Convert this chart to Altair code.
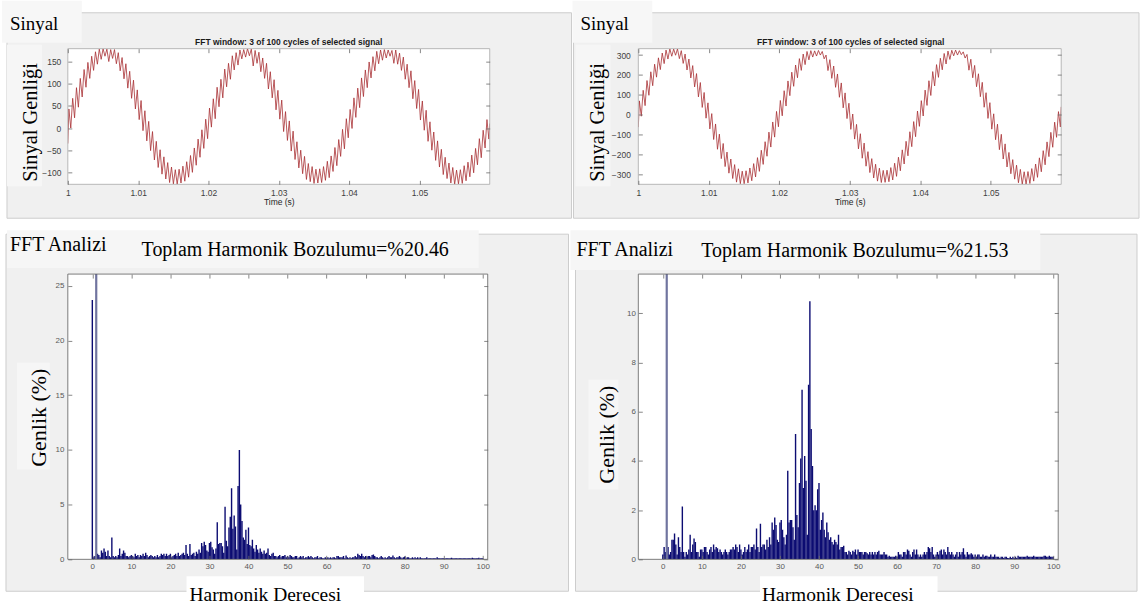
import altair as alt
import pandas as pd

# ---------------- data ----------------
# Top panels: signal local maxima / minima of each ripple (3 cycles, 37 ripples each)
tl_start, tl_end = -35, 10
tl_peaks = [43, 67, 91, 112, 132, 148, 162, 172, 178, 179, 178, 177, 177, 170, 159, 145, 128, 108, 86, 62,
            39, 15, -8, -30, -49, -65, -78, -88, -94, -93, -86, -76, -62, -45, -25, -4, 20,
            45, 66, 92, 110, 133, 146, 163, 170, 176, 177, 179, 178, 175, 171, 158, 146, 127, 109, 85, 63,
            37, 16, -7, -31, -50, -64, -80, -87, -93, -92, -87, -75, -63, -44, -26, -3, 21,
            42, 68, 90, 113, 131, 149, 161, 173, 176, 177, 176, 175, 176, 169, 160, 144, 129, 107, 87, 61,
            40, 14, -9, -29, -48, -66, -79, -89, -95, -94, -85, -77, -61, -46, -24, -5, 19]
tl_troughs = [0, 23, 47, 70, 92, 112, 130, 144, 155, 162, 150, 157, 145, 129, 111, 90, 67, 43, 19, -6,
              -29, -51, -72, -89, -104, -115, -123, -126, -127, -124, -120, -111, -100, -84, -66, -46, -24,
              2, 21, 48, 68, 93, 110, 131, 142, 156, 160, 163, 140, 146, 127, 112, 88, 68, 41, 20, -8,
              -28, -52, -71, -90, -103, -116, -121, -125, -124, -123, -118, -112, -98, -85, -64, -47, -22,
              -1, 24, 46, 71, 91, 113, 129, 145, 153, 158, 162, 146, 144, 130, 110, 91, 66, 44, 18, -5,
              -30, -50, -73, -88, -105, -114, -124, -127, -126, -125, -119, -110, -101, -83, -67, -45, -25]
tr_start, tr_end = -62, 40
tr_peaks = [70, 123, 172, 216, 254, 286, 310, 325, 331, 330, 331, 322, 305, 280, 247, 207, 162, 112, 60, 6,
            -46, -97, -144, -187, -222, -250, -271, -283, -281, -267, -245, -215, -178, -135, -87, -36, 17,
            72, 121, 170, 214, 250, 282, 305, 318, 322, 321, 323, 318, 300, 277, 245, 205, 160, 110, 58, 4,
            -48, -95, -142, -185, -220, -248, -268, -279, -278, -265, -243, -213, -176, -133, -85, -34, 19,
            71, 124, 171, 217, 252, 284, 308, 320, 324, 325, 322, 316, 303, 279, 248, 206, 163, 111, 61, 5,
            -47, -98, -146, -189, -225, -253, -274, -286, -285, -270, -247, -216, -180, -136, -88, -37, 16]
tr_troughs = [-7, 46, 98, 146, 189, 227, 257, 280, 294, 299, 282, 258, 225, 185, 140, 90, 37, -17, -71, -124,
              -173, -220, -260, -293, -320, -338, -346, -346, -342, -331, -312, -284, -249, -208, -162, -112, -60,
              -5, 44, 96, 143, 186, 223, 252, 276, 290, 295, 300, 281, 222, 183, 138, 88, 35, -19, -73, -122,
              -171, -218, -258, -290, -317, -333, -340, -339, -336, -327, -309, -281, -247, -206, -160, -110, -58,
              -6, 47, 97, 145, 188, 226, 255, 278, 296, 300, 302, 285, 224, 186, 141, 91, 38, -18, -72, -125,
              -175, -222, -262, -296, -323, -341, -349, -348, -345, -333, -314, -286, -251, -210, -163, -113, -61]

time_ticks = [1.0, 1.01, 1.02, 1.03, 1.04, 1.05]
tl_yticks = [-100, -50, 0, 50, 100, 150]
tr_yticks = [-300, -200, -100, 0, 100, 200, 300]
harm_ticks = [0, 10, 20, 30, 40, 50, 60, 70, 80, 90, 100]
bl_yticks = [0, 5, 10, 15, 20, 25]
br_yticks = [0, 2, 4, 6, 8, 10]

# Bottom panels: FFT magnitude (% of fundamental), one value per 1/3 harmonic bin
fft_left = [
    23.7, 0.2, 0.3, 100, 0.5, 0.4, 0.2, 0.8, 0.6, 1.0, 0.7, 0.3, 0.8, 0.3, 0.2, 2.0, 0.3, 0.2, 0.3, 0.2, 0.4, 1.0, 0.3, 0.5, 0.8, 0.6, 0.3, 0.3, 0.2, 0.3,
    0.4, 0.3, 0.2, 0.5, 0.3, 0.4, 0.2, 0.4, 0.3, 0.5, 0.3, 0.6, 0.4, 0.2, 0.3, 0.4, 0.3, 0.2, 0.3, 0.2, 0.4, 0.2, 0.3, 0.5, 0.4, 0.5, 0.3, 0.5, 0.3, 0.4,
    0.5, 0.2, 0.3, 0.4, 0.5, 0.3, 0.6, 0.3, 0.4, 0.5, 0.6, 0.4, 1.3, 0.5, 0.3, 1.4, 0.4, 0.5, 0.6, 0.3, 0.7, 0.5, 0.9, 0.6, 1.5, 1.2, 1.6, 1.3, 0.8, 0.7,
    1.5, 1.6, 1.1, 0.9, 0.5, 1.0, 3.4, 1.4, 1.5, 1.5, 1.2, 0.6, 4.8, 1.7, 1.2, 2.9, 3.9, 6.5, 2.8, 4.0, 3.0, 0.9, 6.7, 10.0, 5.0, 3.5, 2.0, 1.8, 2.7, 1.4,
    2.9, 1.3, 1.2, 1.8, 1.0, 0.7, 1.3, 0.9, 0.6, 1.0, 0.7, 0.5, 0.8, 0.5, 0.6, 1.0, 0.4, 0.3, 0.5, 0.6, 0.3, 0.3, 0.2, 0.3, 0.4, 0.2, 0.3, 0.3, 0.4, 0.2,
    0.3, 0.2, 0.4, 0.3, 0.2, 0.2, 0.3, 0.3, 0.1, 0.2, 0.3, 0.2, 0.3, 0.1, 0.2, 0.2, 0.3, 0.2, 0.3, 0.2, 0.1, 0.2, 0.2, 0.3, 0.1, 0.2, 0.2, 0.1, 0.1, 0.2,
    0.1, 0.2, 0.1, 0.2, 0.1, 0.2, 0.2, 0.1, 0.3, 0.3, 0.2, 0.2, 0.2, 0.3, 0.1, 0.35, 0.2, 0.1, 0.2, 0.1, 0.2, 0.2, 0.3, 0.2, 0.5, 0.4, 0.3, 0.5, 0.3, 0.2,
    0.3, 0.2, 0.3, 0.3, 0.2, 0.4, 0.45, 0.3, 0.2, 0.2, 0.1, 0.2, 0.3, 0.2, 0.1, 0.2, 0.1, 0.2, 0.3, 0.2, 0.2, 0.35, 0.2, 0.1, 0.2, 0.2, 0.3, 0.2, 0.1, 0.2,
    0.25, 0.1, 0.2, 0.2, 0.1, 0.1, 0.2, 0.1, 0.2, 0.1, 0.2, 0.1, 0.2, 0.1, 0.1, 0.1, 0.1, 0.2, 0.1, 0.1, 0.1, 0.1, 0.1, 0.1, 0.1, 0.2, 0.1, 0.1, 0.1, 0.1,
    0.1, 0.1, 0.1, 0.1, 0.1, 0.1, 0.15, 0.1, 0.1, 0.1, 0.1, 0.1, 0.1, 0.1, 0.1, 0.1, 0.1, 0.1, 0.1, 0.1, 0.1, 0.1, 0.15, 0.1, 0.1, 0.1, 0.1, 0.15, 0.1, 0.1,
    0.1]
fft_right = [
    0.2, 0.5, 0.3, 100, 0.5, 0.2, 0.3, 0.8, 0.8, 1.05, 0.6, 0.2, 0.9, 0.5, 0.3, 2.15, 0.3, 0.1, 0.3, 0.2, 0.4, 1.0, 0.3, 0.6, 0.85, 0.7, 0.3, 0.3, 0.1, 0.4,
    0.4, 0.3, 0.5, 0.5, 0.3, 0.2, 0.4, 0.5, 0.3, 0.6, 0.4, 0.5, 0.45, 0.3, 0.4, 0.3, 0.2, 0.3, 0.4, 0.3, 0.2, 0.3, 0.4, 0.4, 0.5, 0.4, 0.6, 0.5, 0.3, 0.6,
    0.4, 0.2, 0.3, 0.5, 0.3, 0.4, 0.6, 0.3, 0.5, 0.5, 0.6, 0.4, 1.25, 0.5, 0.3, 1.45, 0.5, 0.6, 0.6, 0.4, 0.8, 0.5, 0.9, 0.6, 1.5, 1.2, 1.7, 1.4, 0.8, 0.7,
    1.5, 1.6, 1.2, 0.9, 0.6, 1.0, 3.6, 1.5, 1.6, 1.6, 1.3, 0.8, 5.1, 1.8, 1.3, 3.1, 4.1, 6.9, 2.9, 4.2, 3.2, 1.0, 7.1, 10.5, 5.3, 3.8, 2.0, 2.2, 2.0, 2.85,
    3.1, 1.2, 1.6, 1.9, 1.2, 0.9, 1.5, 1.1, 0.8, 0.9, 0.7, 0.6, 0.8, 0.7, 0.6, 1.0, 0.4, 0.5, 0.5, 0.55, 0.3, 0.3, 0.2, 0.35, 0.3, 0.2, 0.35, 0.3, 0.4, 0.2,
    0.4, 0.3, 0.3, 0.3, 0.2, 0.3, 0.3, 0.25, 0.2, 0.3, 0.2, 0.3, 0.2, 0.3, 0.2, 0.3, 0.35, 0.2, 0.2, 0.2, 0.3, 0.2, 0.2, 0.1, 0.15, 0.1, 0.1, 0.1, 0.1, 0.15,
    0.1, 0.3, 0.2, 0.2, 0.1, 0.3, 0.3, 0.2, 0.4, 0.35, 0.2, 0.1, 0.3, 0.4, 0.2, 0.4, 0.2, 0.1, 0.2, 0.1, 0.2, 0.3, 0.2, 0.3, 0.5, 0.45, 0.3, 0.5, 0.2, 0.1,
    0.2, 0.3, 0.2, 0.35, 0.4, 0.2, 0.4, 0.3, 0.2, 0.5, 0.3, 0.2, 0.3, 0.2, 0.1, 0.2, 0.3, 0.1, 0.3, 0.2, 0.3, 0.45, 0.2, 0.1, 0.3, 0.2, 0.2, 0.25, 0.2, 0.1,
    0.2, 0.1, 0.2, 0.2, 0.1, 0.1, 0.2, 0.1, 0.15, 0.15, 0.1, 0.1, 0.2, 0.1, 0.1, 0.2, 0.1, 0.1, 0.1, 0.05, 0.1, 0.1, 0.05, 0.1, 0.1, 0.05, 0.05, 0.1, 0.05, 0.1,
    0.05, 0.1, 0.05, 0.15, 0.1, 0.1, 0.1, 0.1, 0.1, 0.1, 0.15, 0.1, 0.1, 0.1, 0.1, 0.15, 0.1, 0.1, 0.1, 0.1, 0.1, 0.1, 0.1, 0.15, 0.15, 0.1, 0.1, 0.15, 0.1, 0.1,
    0.1]

assert len(tl_peaks) == len(tl_troughs) == len(tr_peaks) == len(tr_troughs) == 111
assert len(fft_left) == len(fft_right) == 301

SERIF = "Liberation Serif"
SANS = "Liberation Sans"
RIPPLE = 0.06 / 111  # ripple period of the sampled waveform (s)


def signal_df(start, peaks, troughs, end):
    t, v = [1.0], [start]
    for j, (p, q) in enumerate(zip(peaks, troughs)):
        tp = 1.00015 + j * RIPPLE
        t += [tp, tp + RIPPLE / 2]
        v += [p, q]
    t.append(1.06)
    v.append(end)
    return pd.DataFrame({"t": t, "v": v})


def fft_df(vals):
    return pd.DataFrame({"h": [n / 3 for n in range(len(vals))], "a": vals, "n": list(range(len(vals)))})


ONE = pd.DataFrame({"k": [0]})


def rect(x1, x2, y1, y2, fill, stroke=None, sw=1.0):
    kw = dict(fill=fill)
    if stroke:
        kw.update(stroke=stroke, strokeWidth=sw)
    return alt.Chart(ONE).mark_rect(**kw).encode(
        x=alt.value(x1), x2=alt.value(x2), y=alt.value(y1), y2=alt.value(y2))


def label(txt, x, y, size, font=SERIF, angle=0, align="left", weight="normal", color="#000000"):
    kw = dict(text=txt, font=font, fontSize=size, align=align, baseline="alphabetic",
              fontWeight=weight, color=color)
    if angle:
        kw["angle"] = angle
    return alt.Chart(ONE).mark_text(**kw).encode(x=alt.value(x), y=alt.value(y))


def axis(orient, values, labels=True, pad=4, fmt=None, title=None, size=8.5, color="#404040"):
    kw = dict(orient=orient, values=values, offset=-4, tickSize=4, tickColor="#6a6a6a", tickWidth=0.8,
              domain=False, grid=False, labels=labels, labelPadding=pad, labelFont=SANS,
              labelFontSize=size, labelColor=color, zindex=1, labelFlush=False, labelOverlap=False)
    if fmt:
        kw["format"] = fmt
    if title:
        kw.update(title=title, titleFont=SANS, titleFontSize=8.5, titleFontWeight="normal",
                  titleColor="#262626", titlePadding=1)
    else:
        kw["title"] = None
    return alt.Axis(**kw)


def signal_panel(df, ydom, yticks, w, h, cell, pbox, sbox, gbox, texts, ypad):
    xs = alt.Scale(domain=[1.0, 1.06], nice=False, zero=False)
    ys = alt.Scale(domain=ydom, nice=False, zero=False)
    line = alt.Chart(df).mark_line(color="#a83034", strokeWidth=0.8, clip=True).encode(
        x=alt.X("t:Q", scale=xs, axis=axis("bottom", time_ticks, fmt="~g", title="Time (s)")),
        y=alt.Y("v:Q", scale=ys, axis=axis("left", yticks, pad=ypad)),
    )
    ticks = alt.Chart(pd.DataFrame({"t": [1.0], "v": [0]})).mark_point(opacity=0).encode(
        x=alt.X("t:Q", scale=xs, axis=axis("top", time_ticks, labels=False)),
        y=alt.Y("v:Q", scale=ys, axis=axis("right", yticks, labels=False)),
    )
    layers = [rect(*cell, "#ffffff"), rect(*pbox, "#f0f0f0", "#cdcdcd"),
              rect(*sbox, "#f7f7f7"), rect(*gbox, "#f6f6f6"),
              rect(0, w, 0, h, "#ffffff"), line,
              rect(0, w, 0, h, "transparent", "#a8a8a8", 0.8), ticks] + texts
    return alt.layer(*layers).resolve_axis(x="independent", y="independent").properties(width=w, height=h)


def fft_panel(vals, ydom, yticks, w, h, cell, pbox, hbox, gbox, xbox, texts, ypad):
    df = fft_df(vals)
    xs = alt.Scale(domain=[-5, 100], nice=False, zero=False)
    ys = alt.Scale(domain=ydom, nice=False, zero=True)
    bars = alt.Chart(df).transform_filter("datum.n != 3").mark_bar(
        size=1.4, color="#0c0c72", clip=True).encode(
        x=alt.X("h:Q", scale=xs, axis=axis("bottom", harm_ticks, pad=3, size=8, color="#5a5a5a")),
        y=alt.Y("a:Q", scale=ys, axis=axis("left", yticks, pad=ypad, size=8, color="#5a5a5a")),
    )
    fund = alt.Chart(df).transform_filter("datum.n == 3").mark_bar(
        size=2.2, color="#70749f", clip=True).encode(
        x=alt.X("h:Q", scale=xs, axis=None),
        y=alt.Y("a:Q", scale=ys, axis=None),
    )
    ticks = alt.Chart(pd.DataFrame({"h": [0], "a": [0]})).mark_point(opacity=0).encode(
        x=alt.X("h:Q", scale=xs, axis=axis("top", harm_ticks, labels=False)),
        y=alt.Y("a:Q", scale=ys, axis=axis("right", yticks, labels=False)),
    )
    layers = [rect(*cell, "#ffffff"), rect(*pbox, "#f0f0f0", "#cdcdcd"),
              rect(*hbox, "#f6f6f6"), rect(*gbox, "#f6f6f6"), rect(*xbox, "#ffffff"),
              rect(0, w, 0, h, "#ffffff"), bars, fund,
              rect(0, w, 0, h, "transparent", "#5e5e5e", 0.8), ticks] + texts
    return alt.layer(*layers).resolve_axis(x="independent", y="independent").properties(width=w, height=h)


TITLE = "FFT window: 3 of 100 cycles of selected signal"

tl = signal_panel(
    signal_df(tl_start, tl_peaks, tl_troughs, tl_end), [-127, 179], tl_yticks, 423, 136,
    cell=(-66, 506, -48, 177), pbox=(-61, 505, -36, 170), sbox=(-66, 14, -48, -6), gbox=(-61, -26, -4, 138),
    texts=[label("Sinyal", -58, -18.5, 19),
           label("Sinyal Genliği", -31, 74, 20.5, angle=270, align="center"),
           label(TITLE, 221.5, -4, 8.5, font=SANS, align="center", weight="bold", color="#1a1a1a")],
    ypad=7)

tr = signal_panel(
    signal_df(tr_start, tr_peaks, tr_troughs, tr_end), [-349, 332], tr_yticks, 424, 136,
    cell=(-66, 502, -48, 177), pbox=(-65, 502, -36, 170), sbox=(-66, 14, -48, -6), gbox=(-63, -28, -4, 138),
    texts=[label("Sinyal", -58, -18.7, 19),
           label("Sinyal Genliği", -34, 74, 20.5, angle=270, align="center"),
           label(TITLE, 213, -4, 8.5, font=SANS, align="center", weight="bold", color="#1a1a1a")],
    ypad=8)

bl = fft_panel(
    fft_left, [0, 26.07], bl_yticks, 421, 286,
    cell=(-68, 504, -49, 338), pbox=(-62, 502, -40, 318), hbox=(-61, 412, -44, -6),
    gbox=(-51, -18, 89, 196), xbox=(119, 297, 303, 338),
    texts=[label("FFT Analizi", -58, -23.5, 20),
           label("Toplam Harmonik Bozulumu=%20.46", 228, -18, 20, align="center"),
           label("Genlik (%)", -22, 144, 22, angle=270, align="center"),
           label("Harmonik Derecesi", 198, 328, 19.5, align="center")],
    ypad=4)

br = fft_panel(
    fft_right, [0, 11.6], br_yticks, 421, 286,
    cell=(-68, 500, -49, 338), pbox=(-63, 500, -40, 318), hbox=(-68, 403, -44, -4),
    gbox=(-50, -20, 106, 216), xbox=(122, 300, 303, 338),
    texts=[label("FFT Analizi", -62, -18.3, 20),
           label("Toplam Harmonik Bozulumu=%21.53", 217, -17.3, 20, align="center"),
           label("Genlik (%)", -24, 161, 22, angle=270, align="center"),
           label("Harmonik Derecesi", 200, 327.7, 19.5, align="center")],
    ypad=3)

chart = alt.vconcat(
    alt.hconcat(tl, tr, spacing=0),
    alt.hconcat(bl, br, spacing=0),
    spacing=0,
).properties(padding=0, background="#ffffff").configure_view(strokeWidth=0)

chart.save("out.html", embed_options={"renderer": "svg", "actions": False})
